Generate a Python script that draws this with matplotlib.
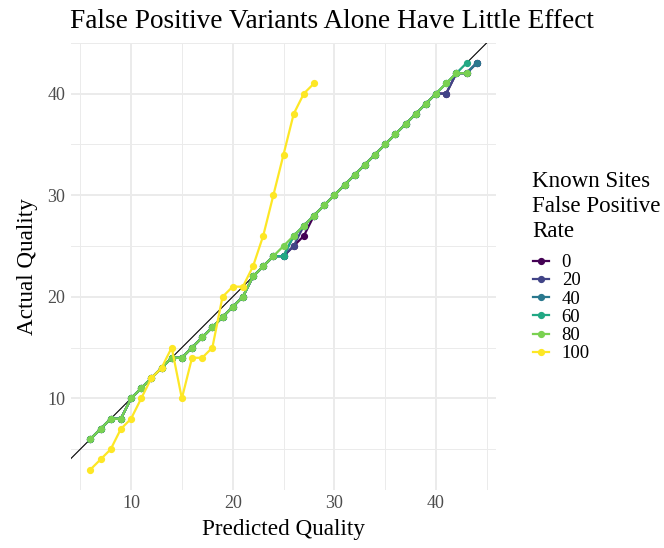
import numpy as np
import matplotlib
matplotlib.use("Agg")
import matplotlib.pyplot as plt

plt.rcParams['font.family'] = ['Liberation Serif', 'DejaVu Serif']

# predicted quality (x) for each series
x_main = list(range(6, 45))
x_80 = list(range(6, 44))
x_60 = list(range(6, 44))
x_100 = list(range(6, 29))

# actual quality for each false positive rate
base = [6, 7, 8, 8, 10, 11, 12, 13, 14, 14, 15, 16, 17, 18, 19, 20, 22, 23, 24, 25,
        26, 27, 28, 29, 30, 31, 32, 33, 34, 35, 36, 37, 38, 39, 40, 41, 42, 42]
y_0 = base[:19] + [24, 25, 26, 28] + base[23:34] + [40, 40, 42, 42, 43]
y_20 = base[:19] + [24, 25, 27, 28] + base[23:34] + [40, 40, 42, 42, 43]
y_40 = base[:19] + [24, 26, 27, 28] + base[23:34] + [40, 41, 42, 42, 43]
y_60 = base[:19] + [24, 26, 27, 28] + base[23:34] + [40, 41, 42, 43]
y_80 = base
y_100 = [3, 4, 5, 7, 8, 10, 12, 13, 15, 10, 14, 14, 15, 20, 21, 21, 23, 26, 30,
         34, 38, 40, 41]

rates = ['0', '20', '40', '60', '80', '100']
colors = ['#440154', '#414487', '#2A788E', '#22A884', '#7AD151', '#FDE725']
xs = [x_main, x_main, x_main, x_60, x_80, x_100]
ys = [y_0, y_20, y_40, y_60, y_80, y_100]

fig = plt.figure(figsize=(6.64, 5.48), dpi=100)
ax = fig.add_axes([0.107, 0.106, 0.640, 0.816])

ax.plot([0, 50], [0, 50], color='black', lw=0.8, zorder=1)
for x, y, c, r in zip(xs, ys, colors, rates):
    ax.plot(x, y, color=c, lw=1.6, marker='o', markersize=4.2, label=r, zorder=2)

ax.set_xlim(4.1, 45.9)
ax.set_ylim(1, 45)
ax.set_xticks([10, 20, 30, 40])
ax.set_yticks([10, 20, 30, 40])
ax.set_xticks([5, 15, 25, 35, 45], minor=True)
ax.set_yticks([5, 15, 25, 35, 45], minor=True)
ax.grid(which='major', color='#EBEBEB', lw=1.4)
ax.grid(which='minor', color='#EBEBEB', lw=0.7)
ax.set_axisbelow(True)
for s in ax.spines.values():
    s.set_visible(False)
ax.tick_params(which='both', length=0, labelsize=13, colors='#4D4D4D', pad=4)

ax.set_xlabel('Predicted Quality', fontsize=16.7, labelpad=5)
ax.set_ylabel('Actual Quality', fontsize=16.7, labelpad=7)
fig.text(0.5, 1 - 28 / 548, 'False Positive Variants Alone Have Little Effect',
         fontsize=19.6, ha='center', va='baseline')

# legend title drawn separately so the gap matches
fig.text(532 / 664, 1 - 171 / 548, 'Known Sites\nFalse Positive\nRate',
         fontsize=16.6, ha='left', va='top', linespacing=1.25)
leg = ax.legend(loc='upper left', bbox_to_anchor=(533 / 664, 1 - 254 / 548),
                bbox_transform=fig.transFigure, frameon=False, fontsize=13.5,
                handlelength=0.85, handletextpad=0.68, labelspacing=0.06,
                borderpad=0, borderaxespad=0)
for h in leg.legend_handles:
    h.set_markersize(4.2)

fig.savefig('out.png', dpi=100)
